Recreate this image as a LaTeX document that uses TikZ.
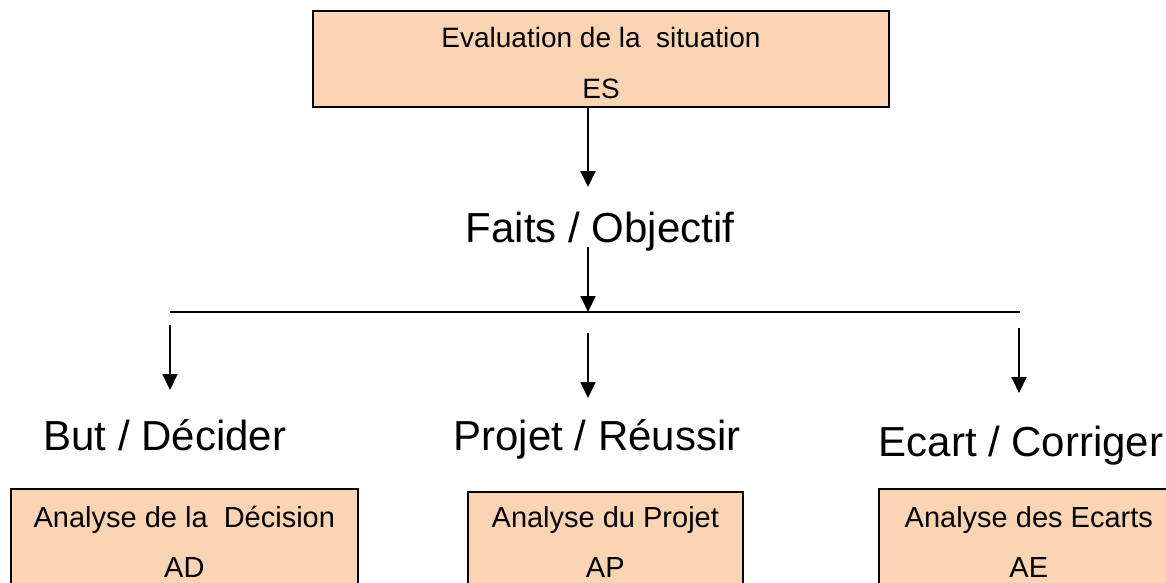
\documentclass[tikz,border=0pt]{standalone}
\usepackage{fontspec}
\setmainfont{Liberation Sans}
\usetikzlibrary{arrows.meta}
\definecolor{peach}{HTML}{FBD4B4}
\begin{document}
\begin{tikzpicture}[x=1pt,y=-1pt,
  box/.style={draw=black, line width=1.6pt, fill=peach, inner sep=0pt, align=center},
  boxtext/.style={font=\fontsize{29}{50}\selectfont},
  big/.style={font=\fontsize{42}{50}\selectfont, inner sep=0pt, anchor=base},
  conn/.style={line width=2pt, -{Triangle[length=16pt,width=15pt]}},
  bar/.style={line width=2pt}]
\useasboundingbox (0,0) rectangle (1166,583);
\clip (0,0) rectangle (1166,583);
% top box
\node[box, minimum width=576pt, minimum height=96pt, font=\fontsize{28}{51}\selectfont] (es) at (601,59) {\rule{0pt}{27.5pt}Evaluation de la~~situation\\ES};
% labels
\node[big] (fo) at (600,242) {Faits / Objectif};
\node[big] (but) at (165,450) {But / Décider};
\node[big] (proj) at (597,450) {Projet / Réussir};
\node[big] (ecart) at (1021,456) {Ecart / Corriger};
% bottom boxes
\node[box, boxtext, anchor=north west, minimum width=347pt, minimum height=106pt] (ad) at (10,488) {Analyse de la~~Décision\\AD};
\node[box, boxtext, anchor=north west, minimum width=275pt, minimum height=100pt] (ap) at (467,491) {Analyse du Projet\\AP};
\node[box, boxtext, anchor=north west, minimum width=300pt, minimum height=106pt] (ae) at (878,488) {Analyse des Ecarts\\AE};
% connector points
\coordinate (s1) at (588,107);
\coordinate (t1) at (588,187);
\coordinate (s2) at (588,247);
\coordinate (hl) at (170,312);
\coordinate (hm) at (588,312);
\coordinate (hr) at (1020,312);
\coordinate (sl) at (170,325);
\coordinate (tl) at (170,390);
\coordinate (sm) at (588,333);
\coordinate (tm) at (588,398);
\coordinate (sr) at (1019,328);
\coordinate (tr) at (1019,393);
\draw[bar] (hl) -- (hr);
\draw[conn] (s1) -- (t1);
\draw[conn] (s2) -- (hm);
\draw[conn] (sl) -- (tl);
\draw[conn] (sm) -- (tm);
\draw[conn] (sr) -- (tr);
\end{tikzpicture}
\end{document}
